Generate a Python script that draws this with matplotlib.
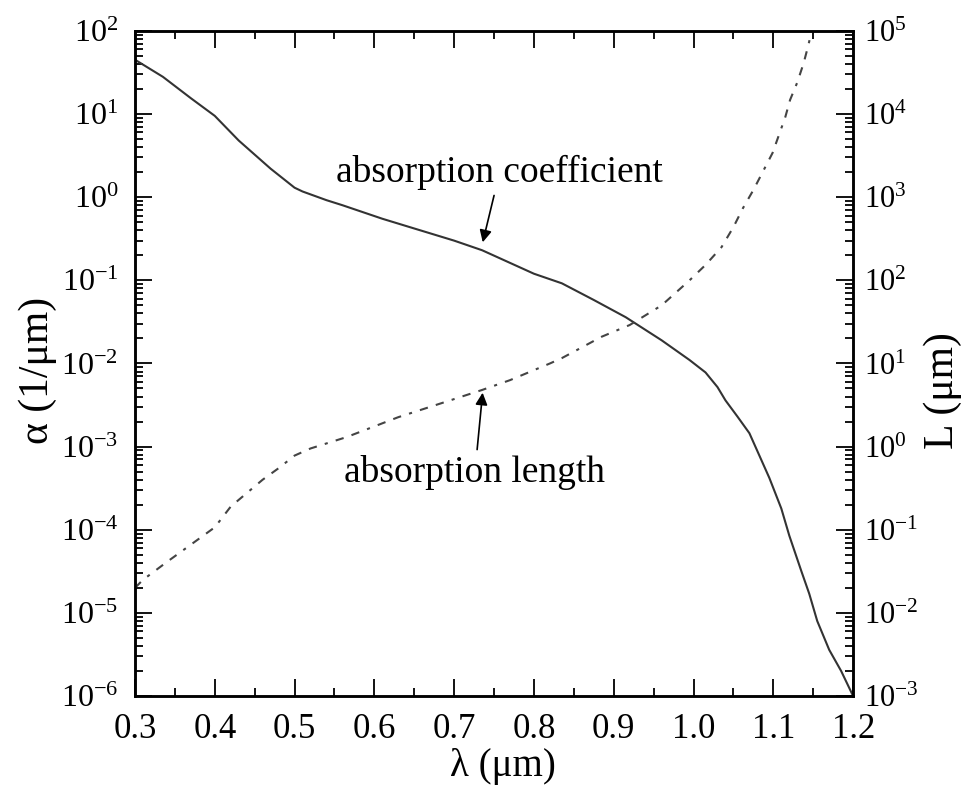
import matplotlib
matplotlib.use("Agg")
import matplotlib.pyplot as plt
from matplotlib.ticker import LogLocator, LogFormatterMathtext, NullFormatter

plt.rcParams['font.family'] = ['Liberation Serif', 'DejaVu Serif']
plt.rcParams['mathtext.default'] = 'regular'
plt.rcParams['axes.unicode_minus'] = False

# absorption coefficient (left axis)
wl_alpha = [0.30, 0.335, 0.37, 0.40, 0.43, 0.47, 0.50, 0.51, 0.54, 0.56, 0.61,
            0.65, 0.70, 0.735, 0.80, 0.835, 0.875, 0.915, 0.96, 0.995, 1.015,
            1.03, 1.04, 1.055, 1.07, 1.095, 1.11, 1.12, 1.135, 1.145, 1.155,
            1.17, 1.185, 1.20]
alpha = [45, 28, 15.5, 9.5, 4.8, 2.2, 1.3, 1.17, 0.92, 0.80, 0.55,
         0.42, 0.30, 0.23, 0.12, 0.092, 0.058, 0.036, 0.019, 0.011, 0.0078,
         0.0052, 0.0036, 0.0023, 0.00145, 4.2e-4, 1.8e-4, 8.5e-5, 3.2e-5, 1.7e-5, 8e-6,
         3.6e-6, 2.0e-6, 1.0e-6]

# absorption length (right axis)
wl_len = [0.30, 0.31, 0.34, 0.40, 0.42, 0.46, 0.48, 0.50, 0.52, 0.565, 0.63,
          0.695, 0.735, 0.77, 0.82, 0.835, 0.885, 0.92, 0.96, 0.995, 1.015,
          1.035, 1.05, 1.062, 1.075, 1.086, 1.099, 1.106, 1.115, 1.121, 1.130,
          1.138, 1.144, 1.148]
length = [0.020, 0.025, 0.041, 0.107, 0.19, 0.40, 0.55, 0.78, 0.95, 1.3, 2.26,
          3.6, 4.8, 6.3, 10, 11.6, 21, 29, 50, 100, 153,
          250, 437, 740, 1220, 1950, 3400, 5250, 9200, 1.48e4, 2.4e4,
          4.1e4, 6.8e4, 1.0e5]

x_ticks = [0.3, 0.4, 0.5, 0.6, 0.7, 0.8, 0.9, 1.0, 1.1, 1.2]
x_ticklabels = ['0.3', '0.4', '0.5', '0.6', '0.7', '0.8', '0.9', '1.0', '1.1', '1.2']
x_minor = [0.35, 0.45, 0.55, 0.65, 0.75, 0.85, 0.95, 1.05, 1.15]

fig = plt.figure(figsize=(9.64, 7.91), dpi=100)
ax = fig.add_axes([0.140, 0.120, 0.745, 0.841])
ax2 = ax.twinx()

ax.plot(wl_alpha, alpha, color='#333333', lw=1.5)
ax2.plot(wl_len, length, color='#444444', lw=1.5, linestyle=(0, (4, 4, 1.5, 4, 4, 4)))

ax.set_xlim(0.3, 1.2)
ax.set_yscale('log')
ax.set_ylim(1e-6, 1e2)
ax2.set_yscale('log')
ax2.set_ylim(1e-3, 1e5)

ax.set_xticks(x_ticks)
ax.set_xticklabels(x_ticklabels)
ax.set_xticks(x_minor, minor=True)

for a in (ax, ax2):
    a.yaxis.set_major_locator(LogLocator(base=10, numticks=20))
    a.yaxis.set_minor_locator(LogLocator(base=10, subs=range(2, 10), numticks=20))
    a.yaxis.set_major_formatter(LogFormatterMathtext())
    a.yaxis.set_minor_formatter(NullFormatter())
    for s in a.spines.values():
        s.set_linewidth(1.8)

ax.tick_params(which='both', direction='in', top=True, right=False, labelsize=23, width=1.3)
ax.tick_params(which='major', length=12)
ax.tick_params(which='minor', length=6)
ax.tick_params(axis='x', pad=12, labelsize=25)
ax.tick_params(axis='y', pad=12)
ax2.tick_params(which='both', direction='in', labelsize=22, width=1.3, pad=8)
ax2.tick_params(which='major', length=12)
ax2.tick_params(which='minor', length=6)

ax.set_xlabel('λ (μm)', fontsize=28)
ax.xaxis.set_label_coords(0.512, -0.078)
ax.set_ylabel('α (1/μm)', fontsize=30)
ax.yaxis.set_label_coords(-0.108, 0.49)
ax2.set_ylabel('L (μm)', fontsize=30, rotation=90)
ax2.yaxis.set_label_coords(1.098, 0.46)

ax.annotate('absorption coefficient', xy=(0.735, 0.266), xytext=(0.757, 1.22),
            fontsize=27, ha='center', va='bottom',
            arrowprops=dict(arrowstyle='-|>', color='black', lw=1.2, mutation_scale=18))
ax.annotate('absorption length', xy=(0.736, 4.8e-3), xytext=(0.726, 7.9e-4),
            fontsize=27, ha='center', va='top',
            arrowprops=dict(arrowstyle='-|>', color='black', lw=1.2, mutation_scale=18))

fig.savefig('out.png', dpi=100)
